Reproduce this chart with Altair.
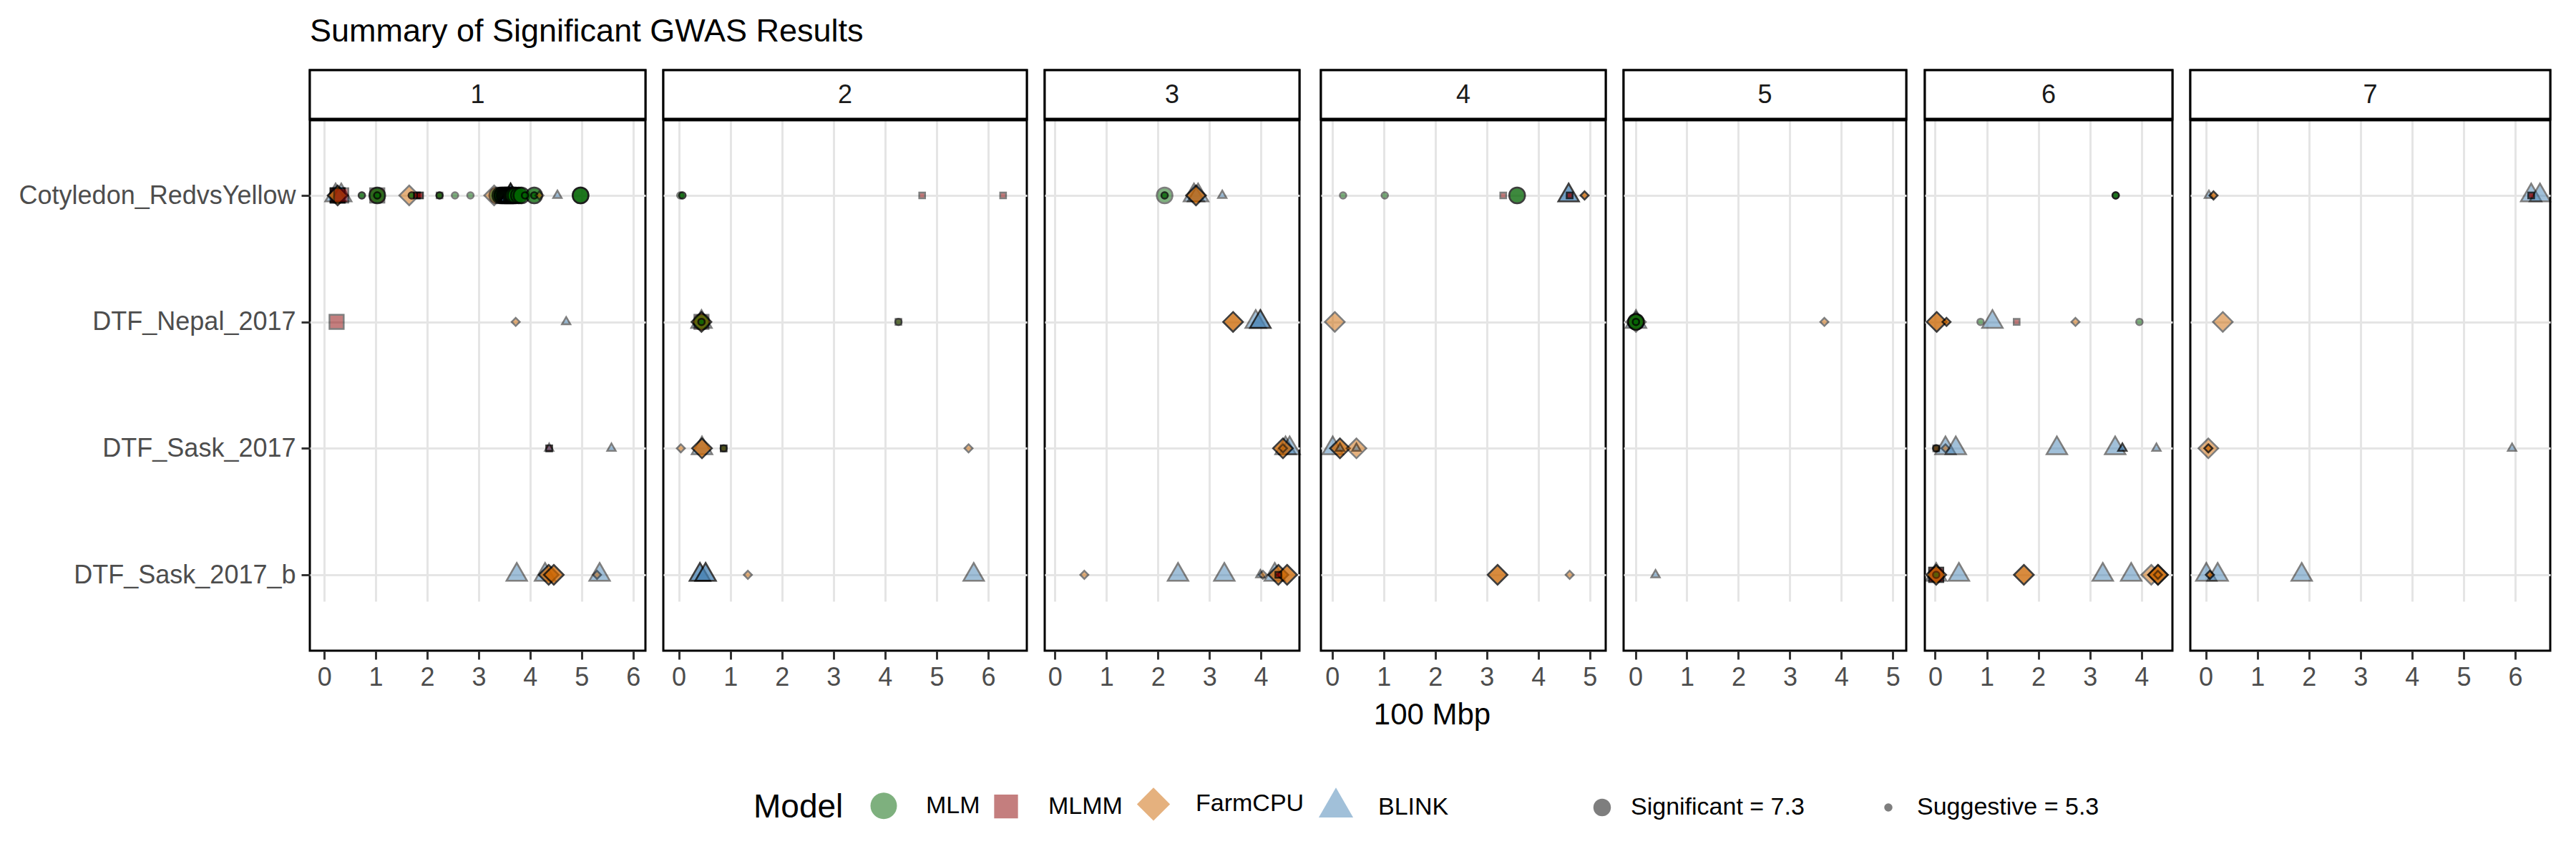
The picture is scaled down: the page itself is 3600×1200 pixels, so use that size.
import altair as alt
import pandas as pd

FONT = "Liberation Sans"

TRAITS = ["Cotyledon_RedvsYellow", "DTF_Nepal_2017", "DTF_Sask_2017", "DTF_Sask_2017_b"]
MODELS = ["MLM", "MLMM", "FarmCPU", "BLINK"]
MODEL_COLORS = ["#006400", "#8B0000", "#CD6600", "#4682B4"]
MODEL_SHAPES = [
    "M1,0A1,1,0,1,1,-1,0A1,1,0,1,1,1,0Z",
    "M-0.9,-0.9H0.9V0.9H-0.9Z",
    "M0,-1.25L1.25,0L0,1.25L-1.25,0Z",
    "M0,-1.5L1.3,0.75L-1.3,0.75Z",
]
LEVELS = ["Significant = 7.3", "Suggestive = 5.3"]
S, s = LEVELS
CHROMS = ["1", "2", "3", "4", "5", "6", "7"]
X_LIMITS = [(-0.28, 6.24), (-0.30, 6.75), (-0.20, 4.75), (-0.22, 5.31),
            (-0.23, 5.26), (-0.20, 4.60), (-0.30, 6.68)]
X_TICKS = [[0, 1, 2, 3, 4, 5, 6], [0, 1, 2, 3, 4, 5, 6], [0, 1, 2, 3, 4],
           [0, 1, 2, 3, 4, 5], [0, 1, 2, 3, 4, 5], [0, 1, 2, 3, 4],
           [0, 1, 2, 3, 4, 5, 6]]

# (trait index, model, threshold, position in 100 Mbp, number of overlapping hits)
CHR1 = [
    (0, "MLMM", S, 0.26, 3), (0, "BLINK", S, 0.22, 1), (0, "BLINK", S, 0.33, 1),
    (0, "FarmCPU", S, 0.26, 2), (0, "MLMM", S, 0.33, 1), (0, "MLM", s, 0.73, 2),
    (0, "MLMM", S, 1.03, 1), (0, "MLM", S, 1.03, 2), (0, "MLM", s, 1.03, 2),
    (0, "FarmCPU", S, 1.65, 1), (0, "MLM", s, 1.70, 2), (0, "MLMM", s, 1.80, 2),
    (0, "MLMM", s, 1.86, 2), (0, "MLMM", s, 2.24, 1), (0, "MLM", s, 2.24, 2),
    (0, "MLM", s, 2.54, 1), (0, "MLM", s, 2.84, 1), (0, "FarmCPU", S, 3.30, 1),
    (0, "MLM", S, 3.36, 1), (0, "MLM", S, 3.42, 2), (0, "MLM", S, 3.46, 3),
    (0, "MLM", S, 3.50, 3), (0, "MLM", S, 3.53, 3), (0, "MLM", S, 3.56, 3),
    (0, "MLM", S, 3.59, 3), (0, "BLINK", S, 3.62, 3), (0, "MLM", S, 3.62, 3),
    (0, "MLM", S, 3.65, 3), (0, "MLM", S, 3.68, 3), (0, "MLM", S, 3.72, 2),
    (0, "MLM", S, 3.78, 2), (0, "MLM", S, 3.83, 2), (0, "MLM", s, 3.90, 2),
    (0, "MLM", S, 4.08, 2), (0, "MLM", s, 4.08, 2), (0, "FarmCPU", s, 4.18, 1),
    (0, "BLINK", s, 4.53, 1), (0, "MLM", S, 4.98, 3),
    (1, "MLMM", S, 0.24, 1), (1, "FarmCPU", s, 3.72, 1), (1, "BLINK", s, 4.70, 1),
    (2, "MLMM", s, 4.37, 2), (2, "BLINK", s, 4.37, 1), (2, "BLINK", s, 5.58, 1),
    (3, "BLINK", S, 3.74, 1), (3, "BLINK", S, 4.29, 1), (3, "FarmCPU", S, 4.36, 2),
    (3, "FarmCPU", S, 4.46, 2), (3, "BLINK", S, 5.35, 1), (3, "FarmCPU", s, 5.30, 1),
]
CHR2 = [
    (0, "MLM", s, 0.03, 1), (0, "MLM", s, 0.07, 2), (0, "MLMM", s, 4.72, 1),
    (0, "MLMM", s, 6.29, 1),
    (1, "BLINK", S, 0.44, 1), (1, "MLMM", S, 0.44, 1), (1, "FarmCPU", S, 0.44, 2),
    (1, "MLM", S, 0.44, 1), (1, "MLM", s, 0.44, 2), (1, "MLMM", s, 4.26, 1),
    (1, "MLM", s, 4.26, 1),
    (2, "FarmCPU", s, 0.04, 1), (2, "BLINK", S, 0.45, 1), (2, "FarmCPU", S, 0.45, 2),
    (2, "MLMM", s, 0.87, 2), (2, "MLM", s, 0.87, 1), (2, "FarmCPU", s, 5.62, 1),
    (3, "BLINK", S, 0.41, 2), (3, "BLINK", S, 0.52, 2), (3, "FarmCPU", s, 1.34, 1),
    (3, "BLINK", S, 5.72, 1),
]
CHR3 = [
    (0, "MLM", S, 2.13, 1), (0, "MLM", s, 2.13, 2), (0, "BLINK", S, 2.70, 1),
    (0, "BLINK", S, 2.78, 1), (0, "FarmCPU", S, 2.74, 2), (0, "BLINK", s, 3.25, 1),
    (1, "FarmCPU", S, 3.46, 2), (1, "BLINK", S, 3.90, 1), (1, "BLINK", S, 3.99, 2),
    (2, "BLINK", S, 4.48, 1), (2, "BLINK", S, 4.56, 1), (2, "FarmCPU", S, 4.43, 2),
    (2, "FarmCPU", s, 4.43, 1),
    (3, "FarmCPU", s, 0.57, 1), (3, "BLINK", S, 2.39, 1), (3, "BLINK", S, 3.29, 1),
    (3, "BLINK", s, 3.99, 1), (3, "FarmCPU", s, 4.04, 1), (3, "BLINK", S, 4.27, 1),
    (3, "FarmCPU", S, 4.34, 2), (3, "MLMM", s, 4.34, 2), (3, "FarmCPU", S, 4.51, 2),
]
CHR4 = [
    (0, "MLM", s, 0.21, 1), (0, "MLM", s, 1.02, 1), (0, "MLMM", s, 3.32, 1),
    (0, "MLM", S, 3.59, 2), (0, "BLINK", S, 4.59, 2), (0, "MLMM", s, 4.61, 2),
    (0, "FarmCPU", s, 4.90, 2),
    (1, "FarmCPU", S, 0.05, 1),
    (2, "BLINK", S, 0.01, 1), (2, "FarmCPU", S, 0.15, 2), (2, "BLINK", s, 0.15, 1),
    (2, "FarmCPU", S, 0.47, 1), (2, "BLINK", s, 0.47, 1),
    (3, "FarmCPU", S, 3.21, 2), (3, "FarmCPU", s, 4.61, 1),
]
CHR5 = [
    (1, "BLINK", S, 0.01, 1), (1, "FarmCPU", S, 0.01, 1), (1, "MLM", S, 0.01, 3),
    (1, "MLM", s, 0.01, 2), (1, "FarmCPU", s, 3.67, 1),
    (3, "BLINK", s, 0.39, 1),
]
CHR6 = [
    (0, "MLM", s, 3.50, 3),
    (1, "FarmCPU", S, 0.03, 2), (1, "FarmCPU", s, 0.22, 2), (1, "MLM", s, 0.88, 1),
    (1, "BLINK", S, 1.11, 1), (1, "MLMM", s, 1.58, 1), (1, "FarmCPU", s, 2.72, 1),
    (1, "MLM", s, 3.96, 1),
    (2, "BLINK", S, 0.20, 1), (2, "BLINK", S, 0.40, 1), (2, "MLM", s, 0.02, 2),
    (2, "MLMM", s, 0.02, 1), (2, "FarmCPU", s, 0.20, 1), (2, "BLINK", S, 2.36, 1),
    (2, "BLINK", S, 3.49, 1), (2, "BLINK", s, 3.63, 2), (2, "BLINK", s, 4.29, 1),
    (3, "BLINK", S, 0.02, 1), (3, "MLMM", S, 0.02, 2), (3, "FarmCPU", S, 0.02, 2),
    (3, "MLM", s, 0.02, 1), (3, "BLINK", S, 0.46, 1), (3, "FarmCPU", S, 1.72, 2),
    (3, "BLINK", S, 3.25, 1), (3, "BLINK", S, 3.80, 1), (3, "FarmCPU", S, 4.19, 1),
    (3, "FarmCPU", S, 4.32, 3), (3, "FarmCPU", s, 4.32, 1),
]
CHR7 = [
    (0, "BLINK", s, 0.06, 1), (0, "FarmCPU", s, 0.15, 2), (0, "BLINK", S, 6.31, 1),
    (0, "BLINK", S, 6.48, 1), (0, "MLMM", s, 6.31, 2),
    (1, "FarmCPU", S, 0.33, 1),
    (2, "FarmCPU", S, 0.05, 1), (2, "FarmCPU", s, 0.05, 2), (2, "BLINK", s, 5.94, 1),
    (3, "BLINK", S, 0.01, 1), (3, "FarmCPU", s, 0.08, 2), (3, "BLINK", S, 0.23, 1),
    (3, "BLINK", S, 1.86, 1),
]
HITS = [CHR1, CHR2, CHR3, CHR4, CHR5, CHR6, CHR7]

rows = []
for chrom, hits in zip(CHROMS, HITS):
    for t, m, lev, pos, n in hits:
        for _ in range(n):
            rows.append({"Chromosome": chrom, "Trait": TRAITS[t], "Model": m,
                         "Threshold": lev, "Pos": pos,
                         "rank": LEVELS.index(lev)})
df = pd.DataFrame(rows).sort_values("rank", kind="stable").reset_index(drop=True)

PX_PER_UNIT = 72.0
STRIP_H = 69
PLOT_H = 742
H = STRIP_H + PLOT_H

model_legend = alt.Legend(
    title="Model", orient="none", legendX=620, legendY=1005, direction="horizontal",
    titleOrient="left", titleFontSize=46, titleFont=FONT, titleFontWeight="normal",
    titleColor="black", titlePadding=36, titleBaseline="middle", titleLimit=0,
    labelFontSize=34, labelFont=FONT, labelColor="black", labelOffset=39, labelLimit=0,
    symbolSize=1369, symbolStrokeColor="black", symbolStrokeWidth=3,
    symbolOpacity=0.5, columnPadding=13,
)
size_legend = alt.Legend(
    title=None, orient="none", legendX=1789, legendY=1013, direction="horizontal",
    labelFontSize=34, labelFont=FONT, labelColor="black", labelOffset=23, labelLimit=0,
    symbolType="circle", symbolFillColor="black", symbolStrokeColor="black",
    symbolStrokeWidth=2.5, symbolOpacity=0.5, columnPadding=100,
)

fill_scale = alt.Scale(domain=MODELS, range=MODEL_COLORS)
shape_scale = alt.Scale(domain=MODELS, range=MODEL_SHAPES)
size_scale = alt.Scale(domain=LEVELS, range=[484, 81])


def panel(i):
    chrom = CHROMS[i]
    lo, hi = X_LIMITS[i]
    w = round((hi - lo) * PX_PER_UNIT)
    first = i == 0
    yaxis = alt.Axis(title=None, labels=first, ticks=first, domain=False, grid=True)
    if i == 3:
        xaxis = alt.Axis(values=X_TICKS[i], format="d", title="100 Mbp",
                         titleX=155, titleAlign="center")
    else:
        xaxis = alt.Axis(values=X_TICKS[i], format="d", title=None)
    x = alt.X("Pos:Q", scale=alt.Scale(domain=[lo, hi], nice=False, zero=False), axis=xaxis)
    y = alt.Y("Trait:N", sort=TRAITS,
              scale=alt.Scale(type="point", domain=TRAITS, range=[STRIP_H, H], padding=0.6),
              axis=yaxis)
    pts = alt.Chart(df[df["Chromosome"] == chrom]).mark_point(
        filled=True, opacity=0.5, stroke="black", strokeWidth=2.5
    ).encode(
        x=x, y=y,
        fill=alt.Fill("Model:N", scale=fill_scale, legend=model_legend),
        shape=alt.Shape("Model:N", scale=shape_scale, legend=model_legend),
        size=alt.Size("Threshold:O", scale=size_scale, legend=size_legend),
    )
    strip_df = pd.DataFrame({"label": [chrom]})
    rect = alt.Chart(strip_df).mark_rect(fill="white", stroke="black", strokeWidth=3).encode(
        x=alt.value(0), x2=alt.value(w), y=alt.value(0), y2=alt.value(STRIP_H))
    rule = alt.Chart(strip_df).mark_rule(color="black", strokeWidth=5).encode(
        x=alt.value(0), x2=alt.value(w), y=alt.value(STRIP_H))
    txt = alt.Chart(strip_df).mark_text(
        fontSize=36, font=FONT, color="#1A1A1A", baseline="middle", align="center"
    ).encode(text="label:N", x=alt.value(w / 2), y=alt.value(STRIP_H / 2))
    return alt.layer(rect, rule, txt, pts).properties(width=w, height=H)


chart = alt.hconcat(*[panel(i) for i in range(7)], spacing=17).resolve_scale(
    x="independent", y="independent", fill="shared", shape="shared", size="shared"
).properties(
    title=alt.TitleParams("Summary of Significant GWAS Results", anchor="start",
                          frame="group", fontSize=45, font=FONT, fontWeight="normal",
                          color="black", offset=28),
    padding={"left": 16, "top": 14, "right": 5, "bottom": 5},
    background="white",
).configure_view(
    stroke="black", strokeWidth=3
).configure_axis(
    gridColor="#E5E5E5", gridWidth=3, tickColor="#333333", tickWidth=3, tickSize=12,
    labelColor="#4D4D4D", labelFontSize=36, labelFont=FONT, labelPadding=8, labelLimit=0,
    titleFont=FONT, titleFontSize=42, titleFontWeight="normal", titleColor="black",
    titlePadding=14, domain=False,
).configure_legend(
    symbolStrokeColor="black", symbolStrokeWidth=3
)

chart.save("out.html", embed_options={"renderer": "svg", "actions": False})
